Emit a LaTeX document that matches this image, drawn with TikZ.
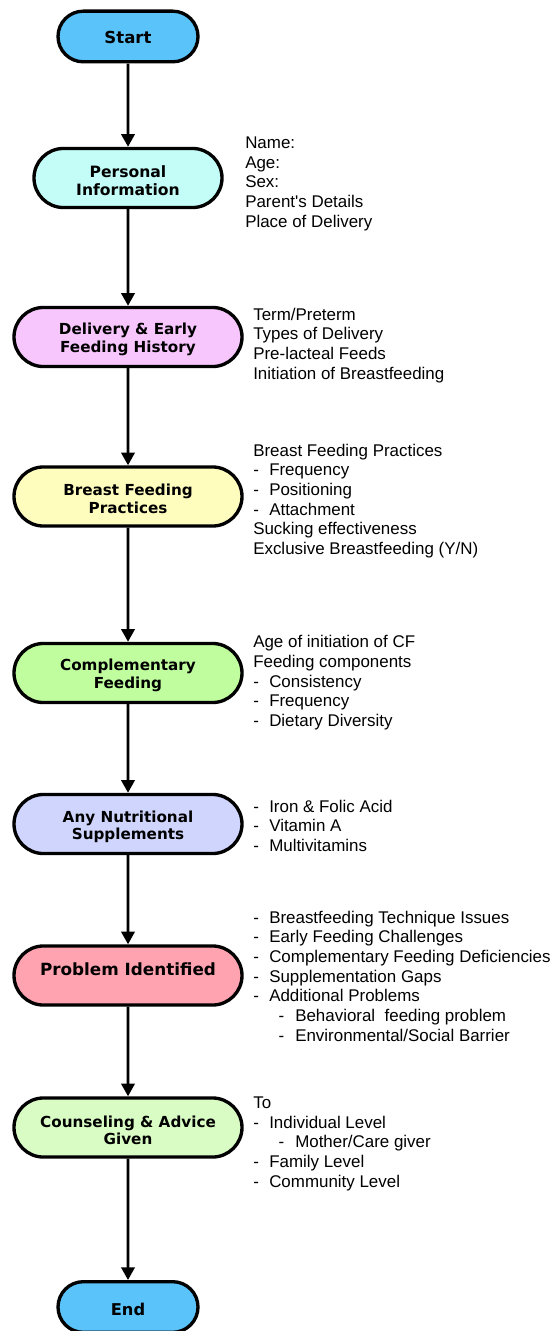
\documentclass[tikz,border=0pt]{standalone}
\usepackage{fontspec}
\setmainfont{Liberation Sans}
\newfontfamily\boxfont{DejaVu Sans}
\usepackage{tikz}
\usetikzlibrary{arrows.meta}
\usetikzlibrary{shapes.misc}
\definecolor{startblue}{HTML}{5AC3F9}
\definecolor{infocyan}{HTML}{C4FDF8}
\definecolor{deliverypink}{HTML}{F7C6FD}
\definecolor{breastyellow}{HTML}{FFFDBE}
\definecolor{compgreen}{HTML}{BFFD9E}
\definecolor{supplavender}{HTML}{CFD5FD}
\definecolor{problemred}{HTML}{FFA3B1}
\definecolor{advicegreen}{HTML}{D9FBC4}
\newcommand{\itm}[1]{\makebox[12pt][l]{-}#1}
\newcommand{\subitm}[1]{\hspace*{19pt}\makebox[12.5pt][l]{-}#1}
\newcommand{\boxsize}[1]{\fontsize{#1}{13.4}\selectfont}
\newcommand{\topgap}{\rule{0pt}{12.8pt}}
\tikzset{
  stepbox/.style={draw=black,line width=2.5pt,rounded rectangle,minimum height=44.3pt,
    minimum width=171pt,inner sep=0pt,align=center,font=\boxfont\bfseries\boxsize{11.4}},
  endbox/.style={stepbox,fill=startblue,minimum height=38pt,minimum width=105pt},
  notes/.style={anchor=north west,inner sep=0pt,align=left,
    font=\fontsize{12.7}{14.8}\selectfont},
  flow/.style={draw=black,line width=2pt,-{Triangle[length=9.5pt,width=10pt]}}
}
\begin{document}
\begin{tikzpicture}[x=0.75pt,y=-0.75pt]
\useasboundingbox (0,0) rectangle (553,1331);
\node[endbox,font=\boxfont\bfseries\boxsize{12.4}] (start) at (128,36.5) {\raisebox{-5.6pt}[0pt][0pt]{Start}};
\node[stepbox,fill=infocyan,minimum width=141pt,font=\boxfont\bfseries\boxsize{11.7}] (info) at (128,178) {\topgap Personal\\Information};
\node[stepbox,fill=deliverypink] (delivery) at (128,337) {\topgap Delivery \& Early\\Feeding History};
\node[stepbox,fill=breastyellow] (breast) at (128,496.5) {\topgap Breast Feeding\\Practices};
\node[stepbox,fill=compgreen] (comp) at (128,673) {\topgap Complementary\\Feeding};
\node[stepbox,fill=supplavender] (supp) at (128,824) {\topgap Any Nutritional\\Supplements};
\node[stepbox,fill=problemred,font=\boxfont\bfseries\boxsize{12.6}] (problem) at (128,975.5) {\raisebox{0pt}[0pt][0pt]{Problem Identified}};
\node[stepbox,fill=advicegreen] (advice) at (128,1127.5) {\topgap Counseling \& Advice\\Given};
\node[endbox,font=\boxfont\bfseries\boxsize{12.2}] (end) at (128,1307) {\raisebox{-6pt}[0pt][0pt]{End}};

\draw[flow] (start) -- (info);
\draw[flow] (info) -- (delivery);
\draw[flow] (delivery) -- (breast);
\draw[flow] (breast) -- (comp);
\draw[flow] (comp) -- (supp);
\draw[flow] (supp) -- (problem);
\draw[flow] (problem) -- (advice);
\draw[flow] (advice) -- (end);

\node[notes] (infonotes) at (245,136.5) {Name:\\Age:\\Sex:\\Parent\textquotesingle s Details\\Place of Delivery};
\node[notes] (deliverynotes) at (253,307.5) {Term/Preterm\\Types of Delivery\\Pre-lacteal Feeds\\Initiation of Breastfeeding};
\node[notes] (breastnotes) at (253,443.5) {Breast Feeding Practices\\\itm{Frequency}\\\itm{Positioning}\\\itm{Attachment}\\Sucking effectiveness\\Exclusive Breastfeeding (Y/N)};
\node[notes] (compnotes) at (253,635) {Age of initiation of CF\\Feeding components\\\itm{Consistency}\\\itm{Frequency}\\\itm{Dietary Diversity}};
\node[notes] (suppnotes) at (253,799.5) {\itm{Iron \& Folic Acid}\\\itm{Vitamin A}\\\itm{Multivitamins}};
\node[notes] (problemnotes) at (253,910.5) {\itm{Breastfeeding Technique Issues}\\\itm{Early Feeding Challenges}\\\itm{Complementary Feeding Deficiencies}\\\itm{Supplementation Gaps}\\\itm{Additional Problems}\\\subitm{Behavioral\ \ feeding problem}\\\subitm{Environmental/Social Barrier}};
\node[notes] (advicenotes) at (253,1096.5) {To\\\itm{Individual Level}\\\subitm{Mother/Care giver}\\\itm{Family Level}\\\itm{Community Level}};
\end{tikzpicture}
\end{document}
